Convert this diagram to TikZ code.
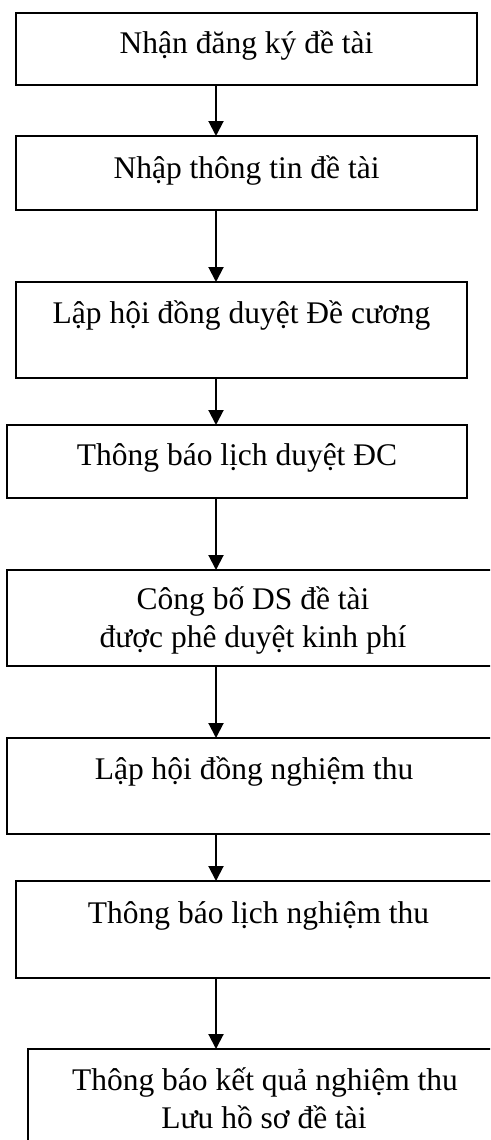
\documentclass[tikz,border=0pt]{standalone}
\usepackage{fontspec}
\setmainfont{Liberation Serif}
\usetikzlibrary{arrows.meta}
\begin{document}
\begin{tikzpicture}[x=1pt,y=-1pt,
  stagebox/.style={draw, line width=1.3pt, rectangle, inner sep=0pt, outer sep=0pt, anchor=north west},
  caption/.style={anchor=base, inner sep=0pt, font=\fontsize{31.5}{38}\selectfont},
  flow/.style={line width=2pt, -{Triangle[width=15pt,length=15pt]}}]
\useasboundingbox (0,0) rectangle (490,1140);
\clip (0,0) rectangle (490,1140);

% process boxes (top-left corner, size)
\node[stagebox, minimum width=461pt, minimum height=72pt] (b1) at (16,13) {};
\node[stagebox, minimum width=461pt, minimum height=74pt] (b2) at (16,136) {};
\node[stagebox, minimum width=451pt, minimum height=96pt] (b3) at (16,282) {};
\node[stagebox, minimum width=460pt, minimum height=73pt] (b4) at (7,425) {};
\node[stagebox, minimum width=492pt, minimum height=96pt] (b5) at (7,570) {};
\node[stagebox, minimum width=494pt, minimum height=96pt] (b6) at (7,738) {};
\node[stagebox, minimum width=485pt, minimum height=97pt] (b7) at (16,881) {};
\node[stagebox, minimum width=475pt, minimum height=130pt] (b8) at (28,1049) {};

% labels
\node[caption] (t1) at (246.5,53) {Nhận đăng ký đề tài};
\node[caption] (t2) at (246.5,178) {Nhập thông tin đề tài};
\node[caption] (t3) at (241.5,323) {Lập hội đồng duyệt Đề cương};
\node[caption] (t4) at (237,465) {Thông báo lịch duyệt ĐC};
\node[caption] (t5a) at (253,609) {Công bố DS đề tài};
\node[caption] (t5b) at (253,647) {được phê duyệt kinh phí};
\node[caption] (t6) at (254,779) {Lập hội đồng nghiệm thu};
\node[caption] (t7) at (258.5,923) {Thông báo lịch nghiệm thu};
\node[caption] (t8a) at (265,1090) {Thông báo kết quả nghiệm thu};
\node[caption] (t8b) at (264,1128) {Lưu hồ sơ đề tài};

% connectors along a common vertical line
\coordinate (ax) at (216,0);
\draw[flow] (b1.south -| ax) -- (b2.north -| ax);
\draw[flow] (b2.south -| ax) -- (b3.north -| ax);
\draw[flow] (b3.south -| ax) -- (b4.north -| ax);
\draw[flow] (b4.south -| ax) -- (b5.north -| ax);
\draw[flow] (b5.south -| ax) -- (b6.north -| ax);
\draw[flow] (b6.south -| ax) -- (b7.north -| ax);
\draw[flow] (b7.south -| ax) -- (b8.north -| ax);
\end{tikzpicture}
\end{document}
